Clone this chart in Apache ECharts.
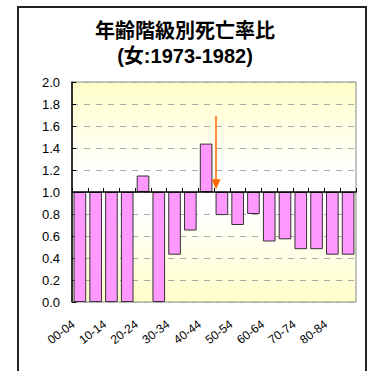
<!DOCTYPE html>
<html>
<head>
<meta charset="utf-8">
<script src="https://cdn.jsdelivr.net/npm/echarts@6/dist/echarts.min.js"></script>
<style>
html,body{margin:0;padding:0;background:#fff;}
#chart{width:370px;height:371px;}
</style>
</head>
<body>
<div id="chart"></div>
<script>
// ---- data ----
const categories = ['00-04','05-09','10-14','15-19','20-24','25-29','30-34','35-39','40-44',
                    '45-49','50-54','55-59','60-64','65-69','70-74','75-79','80-84','85-89'];
const ratios = [0.00, 0.00, 0.00, 0.00, 1.15, 0.00, 0.43, 0.65, 1.44,
                0.79, 0.70, 0.80, 0.55, 0.57, 0.48, 0.48, 0.43, 0.43];
const baseline = 1.0;               // bars are drawn from ratio 1.0
const yTicks = [0.0, 0.2, 0.4, 0.6, 0.8, 1.0, 1.2, 1.4, 1.6, 1.8, 2.0];
const arrowX = [9.13];              // position along the category scale (0..18)
const arrowY = [1.69, 1.07];        // ratio values: arrow start, arrow tip
const titleLines = ['年齢階級別死亡率比', '(女:1973-1982)'];

const chart = echarts.init(document.getElementById('chart'), null, {renderer: 'svg'});

const yMin = yTicks[0] - baseline, yMax = yTicks[yTicks.length - 1] - baseline;
const font = '"Liberation Sans", Arial, "Noto Sans CJK JP", sans-serif';

chart.setOption({
  animation: false,
  backgroundColor: '#fff',
  title: {
    text: titleLines.join('\n'),
    left: 'center',
    top: 13,
    textStyle: {fontFamily: font, fontSize: 20, fontWeight: 'bold', color: '#000', lineHeight: 25}
  },
  graphic: [{
    type: 'rect',
    shape: {x: 18, y: 7, width: 348, height: 380},
    style: {fill: 'none', stroke: '#222', lineWidth: 2},
    silent: true, z: 100
  }],
  grid: {
    left: 72, right: 14, top: 82, bottom: 69,
    show: true,
    borderColor: '#888', borderWidth: 1,
    backgroundColor: new echarts.graphic.LinearGradient(0, 0, 0, 1, [
      {offset: 0, color: '#FFFFC8'},
      {offset: 0.4, color: '#FFFFFF'},
      {offset: 0.6, color: '#FFFFFF'},
      {offset: 1, color: '#FFFFC8'}
    ])
  },
  xAxis: [{
    type: 'category', data: categories,
    axisLine: {show: true, onZero: true, lineStyle: {color: '#000', width: 1.5}},
    axisTick: {show: true, inside: true, length: 4, interval: 0, lineStyle: {color: '#000'}},
    axisLabel: {show: false},
    splitLine: {show: false},
    z: 5
  }, {
    type: 'category', data: categories, position: 'bottom',
    axisLine: {show: false, onZero: false}, axisTick: {show: false},
    axisLabel: {rotate: 37, interval: 1, margin: 16, padding: [0, 8, 0, 0],
                fontSize: 12, color: '#000', fontFamily: font}
  }, {
    type: 'value', min: 0, max: categories.length, show: false
  }],
  yAxis: {
    type: 'value', min: yMin, max: yMax, interval: 0.2,
    axisLine: {show: true, onZero: false, lineStyle: {color: '#000', width: 1.5}},
    axisTick: {show: true, inside: true, length: 4, lineStyle: {color: '#000'}},
    axisLabel: {
      margin: 12, fontSize: 13, color: '#000', fontFamily: font,
      formatter: v => (v + baseline).toFixed(1)
    },
    splitLine: {show: true, lineStyle: {color: '#aaa', type: [6, 6], width: 1}}
  },
  series: [{
    type: 'bar',
    xAxisIndex: 0,
    data: ratios.map(r => r - baseline),
    barCategoryGap: '20%',
    itemStyle: {color: '#FF99FF', borderColor: '#333', borderWidth: 1},
    silent: true
  }, {
    type: 'line',
    xAxisIndex: 2,
    data: [[arrowX[0], arrowY[0] - baseline], [arrowX[0], arrowY[1] - baseline]],
    symbol: 'none',
    lineStyle: {opacity: 0},
    silent: true,
    markLine: {
      silent: true,
      symbol: ['none', 'triangle'],
      symbolSize: [9, 10],
      label: {show: false},
      lineStyle: {color: '#FF6600', width: 1.5, type: 'solid'},
      data: [[{coord: [arrowX[0], arrowY[0] - baseline]}, {coord: [arrowX[0], arrowY[1] - baseline]}]]
    }
  }]
});
</script>
</body>
</html>
